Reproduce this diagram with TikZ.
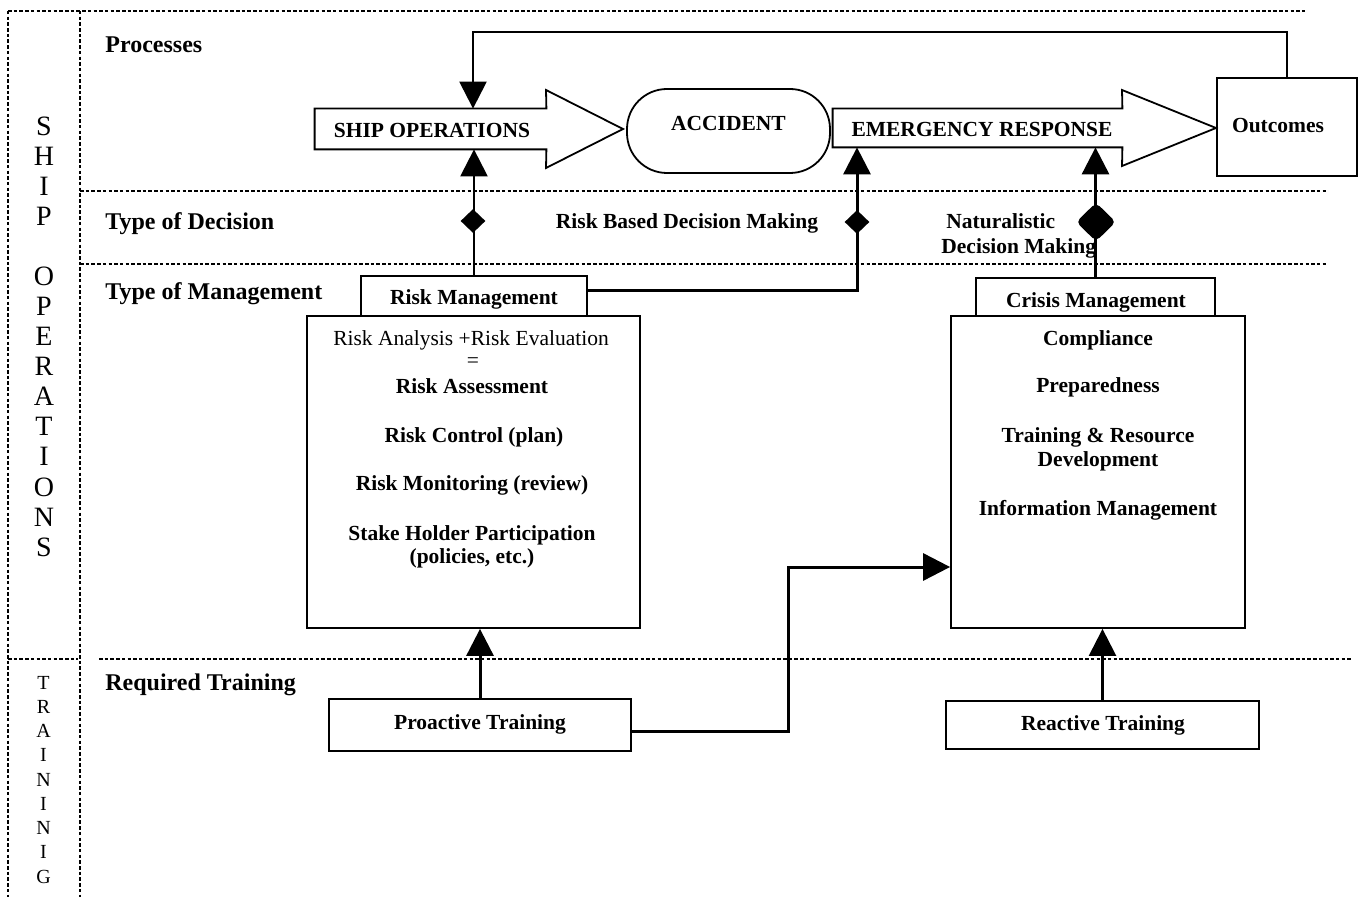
\documentclass[tikz,border=0pt]{standalone}
\usepackage{fontspec}
\setmainfont{Liberation Serif}
\usetikzlibrary{arrows.meta,shapes.geometric,calc}
\begin{document}
\begin{tikzpicture}[x=0.5pt,y=-0.5pt,
  dotl/.style={line width=1pt, dash pattern=on 1.75pt off 1.1pt},
  frame/.style={draw, line width=0.9pt, inner sep=0},
  boxtxt/.style={font=\fontsize{10.75}{13}\selectfont\bfseries, anchor=base, inner sep=0},
  plaintxt/.style={font=\fontsize{10.75}{13}\selectfont, anchor=base, inner sep=0},
  lbl/.style={font=\fontsize{12}{14}\selectfont\bfseries, anchor=base west, inner sep=0},
  conn/.style={line width=1.2pt},
  tri/.style={-{Triangle[length=13.5pt,width=13.5pt]}},
  dia/.style={diamond, fill=black, inner sep=0, minimum width=12.5pt, minimum height=12pt},
  vlet/.style={font=\fontsize{14}{16}\selectfont, anchor=base, inner sep=0},
  tlet/.style={font=\fontsize{10}{12}\selectfont, anchor=base, inner sep=0}
]
\useasboundingbox (0,0) rectangle (1359,897);

% dotted frame lines
\draw[dotl] (8,11) -- (1305,11);
\draw[dotl] (8,11) -- (8,897);
\draw[dotl] (80,11) -- (80,897);
\draw[dotl] (80,191) -- (1328,191);
\draw[dotl] (80,264) -- (1328,264);
\draw[dotl] (8,659) -- (78,659);
\draw[dotl] (99,659) -- (1352,659);

% left column letters
\foreach \l [count=\i from 0] in {S,H,I,P}
  \node[vlet] (sl\i) at (44,136+30*\i) {\l};
\foreach \l [count=\i from 0] in {O,P,E,R,A,T,I,O,N,S}
  \node[vlet] (ol\i) at (44,286+30*\i) {\l};
\foreach \l [count=\i from 0] in {T,R,A,I,N,I,N,I,G}
  \node[tlet] (tl\i) at (43.5,689+24.25*\i) {\l};

% section labels
\node[lbl] (lproc) at (105,53) {Processes};
\node[lbl] (ldec) at (105,230) {Type of Decision};
\node[lbl] (lman) at (105,300) {Type of Management};
\node[lbl] (ltrain) at (105,690) {Required Training};

% process row
\node[minimum width=115.5pt, minimum height=20pt, inner sep=0] (so) at (430.5,129) {};
\draw[line width=0.9pt] (so.south west) -- (so.north west) -- (so.north east) -- (546,90) -- (623,129) -- (546,168) -- (so.south east) -- cycle;
\node[boxtxt] (sot) at (432,138) {SHIP OPERATIONS};

\node[frame, rounded corners=20pt, minimum width=101.5pt, minimum height=42pt] (acc) at (728.5,131) {};
\node[boxtxt] (acct) at (728.5,131) {ACCIDENT};

\node[minimum width=144.5pt, minimum height=19pt, inner sep=0] (er) at (977.5,128) {};
\draw[line width=0.9pt] (er.south west) -- (er.north west) -- (er.north east) -- (1122,90) -- (1216,128) -- (1122,166) -- (er.south east) -- cycle;
\node[boxtxt] (ert) at (982,137) {EMERGENCY RESPONSE};

\node[frame, minimum width=70pt, minimum height=49pt] (out) at (1287,127) {};
\node[boxtxt] (outt) at (1278,133) {Outcomes};

% decision labels
\node[boxtxt] (rbdm) at (687,229) {Risk Based Decision Making};
\node[boxtxt, anchor=base west] (nat1) at (946,229) {Naturalistic};
\node[boxtxt, anchor=base west] (nat2) at (941,254) {Decision Making};

% risk management
\node[frame, minimum width=113pt, minimum height=20pt] (rmt) at (474,296) {};
\node[boxtxt] (rmtt) at (474,305) {Risk Management};
\node[frame, minimum width=166.5pt, minimum height=156pt] (rmb) at (473.5,472) {};
\node[plaintxt] (r1) at (471,346) {Risk Analysis +Risk Evaluation};
\node[plaintxt] (r2) at (473,368) {=};
\node[boxtxt] (r3) at (472,394) {Risk Assessment};
\node[boxtxt] (r4) at (474,443) {Risk Control (plan)};
\node[boxtxt] (r5) at (472,491) {Risk Monitoring (review)};
\node[boxtxt] (r6) at (472,540) {Stake Holder Participation};
\node[boxtxt] (r7) at (472,563) {(policies, etc.)};

% crisis management
\node[frame, minimum width=119.5pt, minimum height=19pt] (cmt) at (1095.5,297) {};
\node[boxtxt] (cmtt) at (1096,308) {Crisis Management};
\node[frame, minimum width=147pt, minimum height=156pt] (cmb) at (1098,472) {};
\node[boxtxt] (c1) at (1098,346) {Compliance};
\node[boxtxt] (c2) at (1098,393) {Preparedness};
\node[boxtxt] (c3) at (1098,443) {Training \& Resource};
\node[boxtxt] (c4) at (1098,467) {Development};
\node[boxtxt] (c5) at (1098,516) {Information Management};

% training boxes
\node[frame, minimum width=151pt, minimum height=26pt] (pt) at (480,725) {};
\node[boxtxt] (ptt) at (480,729) {Proactive Training};
\node[frame, minimum width=156.5pt, minimum height=24pt] (rt) at (1102.5,725) {};
\node[boxtxt] (rtt) at (1103,730) {Reactive Training};

% connectors
\coordinate (fb) at (473,32);
\draw[conn, tri] (out.north) |- (fb) -- (fb |- so.north);
\draw[conn, tri] (rmt.north) -- (rmt.north |- so.south);
\coordinate (cB) at (857,0);
\draw[conn, line width=1.5pt, tri] ([yshift=2.5pt]rmt.east) -| (cB |- er.south);
\draw[conn, line width=1.5pt, tri] (cmt.north) -- (cmt.north |- er.south);
\draw[conn, line width=1.5pt, tri] (pt.north) -- (pt.north |- rmb.south);
\coordinate (cC) at (788,567);
\draw[conn, line width=1.5pt, tri] ([yshift=-3pt]pt.east) -| (cC) -- (cC -| cmb.west);
\draw[conn, tri] (rt.north) -- (rt.north |- cmb.south);

% diamonds
\node[dia] (d1) at (473,221) {};
\node[dia] (d2) at (857,222) {};
\node[dia, minimum width=20pt, minimum height=19.5pt, rounded corners=2.5pt] (d3) at (1096,222) {};
\end{tikzpicture}
\end{document}
